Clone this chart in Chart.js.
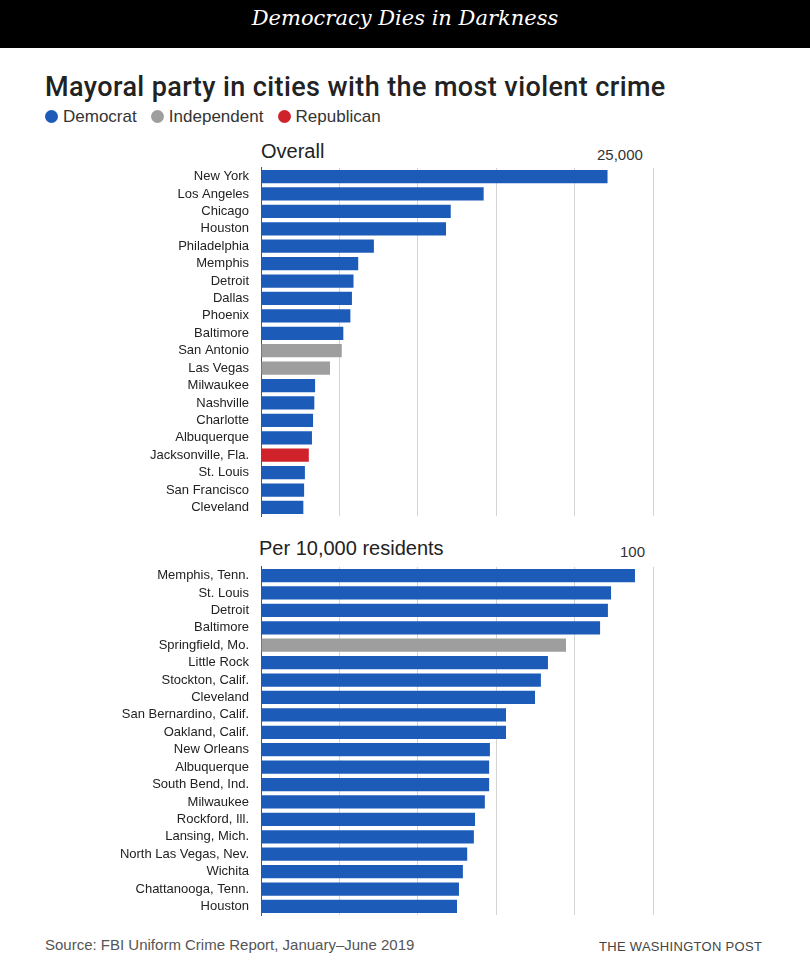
<!DOCTYPE html>
<html><head><meta charset="utf-8">
<script src="https://cdn.jsdelivr.net/npm/chart.js@4"></script>
<style>
body{margin:0;width:810px;height:960px;background:#fff;font-family:"Liberation Sans",Arial,sans-serif;position:relative;overflow:hidden}
.bar{position:absolute;left:0;top:0;width:810px;height:48px;background:#000;color:#fff;font-family:"DejaVu Serif",serif;font-style:italic;font-size:21px;text-align:center;line-height:36px}
.t{position:absolute;white-space:nowrap}
.box{position:absolute;left:0;width:810px}
.dot{display:inline-block;width:13px;height:13px;border-radius:7px;vertical-align:-1px;margin-right:5px}
</style></head><body>
<div class="bar">Democracy Dies in Darkness</div>
<div class="t" style="left:45px;top:71px;font-size:27px;font-family:Roboto;font-weight:500;letter-spacing:0.4px;color:#222">Mayoral party in cities with the most violent crime</div>
<div class="t" style="left:45px;top:107px;font-size:17px;color:#333">
<span class="dot" style="background:#1c5bb8"></span>Democrat&nbsp;&nbsp;&nbsp;<span class="dot" style="background:#9e9e9e"></span>Independent&nbsp;&nbsp;&nbsp;<span class="dot" style="background:#d0222a"></span>Republican</div>
<div class="t" style="left:261px;top:140px;font-size:20px;color:#222">Overall</div>
<div class="t" style="left:597px;top:146px;font-size:15px;color:#333">25,000</div>
<div class="t" style="left:259px;top:537px;font-size:20px;color:#222">Per 10,000 residents</div>
<div class="t" style="left:620px;top:543px;font-size:15px;color:#333">100</div>
<div class="box" style="top:156px;height:372px"><canvas id="c1"></canvas></div>
<div class="box" style="top:555px;height:372px"><canvas id="c2"></canvas></div>
<div class="t" style="left:45px;top:936px;font-size:15px;color:#555">Source: FBI Uniform Crime Report, January–June 2019</div>
<div class="t" style="left:599px;top:939px;font-size:13px;color:#444;letter-spacing:0.3px">THE WASHINGTON POST</div>
<script>
const overallCities = ['New York','Los Angeles','Chicago','Houston','Philadelphia','Memphis','Detroit','Dallas','Phoenix','Baltimore','San Antonio','Las Vegas','Milwaukee','Nashville','Charlotte','Albuquerque','Jacksonville, Fla.','St. Louis','San Francisco','Cleveland'];
const overallValues = [22100,14200,12100,11800,7200,6200,5900,5800,5700,5250,5150,4400,3450,3400,3320,3250,3050,2800,2750,2700];
const overallParty = ['D','D','D','D','D','D','D','D','D','D','I','I','D','D','D','D','R','D','D','D'];
const perCapCities = ['Memphis, Tenn.','St. Louis','Detroit','Baltimore','Springfield, Mo.','Little Rock','Stockton, Calif.','Cleveland','San Bernardino, Calif.','Oakland, Calif.','New Orleans','Albuquerque','South Bend, Ind.','Milwaukee','Rockford, Ill.','Lansing, Mich.','North Las Vegas, Nev.','Wichita','Chattanooga, Tenn.','Houston'];
const perCapValues = [95.4,89.3,88.5,86.5,77.8,73.2,71.4,69.9,62.5,62.5,58.4,58.2,58.2,57.1,54.6,54.3,52.6,51.5,50.5,50];
const perCapParty = ['D','D','D','D','I','D','D','D','D','D','D','D','D','D','D','D','D','D','D','D'];
const partyColors = {D:'#1c5bb8', I:'#9e9e9e', R:'#d0222a'};

function makeChart(id, labels, values, party, max, step) {
  new Chart(document.getElementById(id), {
    type: 'bar',
    data: { labels, datasets: [{ data: values, backgroundColor: party.map(p => partyColors[p]), categoryPercentage: 1, barPercentage: 0.76 }] },
    options: {
      indexAxis: 'y', responsive: true, maintainAspectRatio: false, animation: false,
      layout: { padding: { right: 157, top: 6, bottom: 2 } },
      plugins: { legend: { display: false }, tooltip: { enabled: false } },
      scales: {
        x: { min: 0, max: max, ticks: { display: false, stepSize: step }, border: { display: false },
             grid: { color: '#d4d4d4', drawTicks: false } },
        y: { ticks: { color: '#222', font: { size: 13, family: 'Liberation Sans' }, padding: 4, autoSkip: false },
             grid: { display: false }, border: { color: '#555' },
             afterFit: s => { s.width = 261; } }
      }
    }
  });
}
makeChart('c1', overallCities, overallValues, overallParty, 25000, 5000);
makeChart('c2', perCapCities, perCapValues, perCapParty, 100, 20);
</script>
</body></html>
